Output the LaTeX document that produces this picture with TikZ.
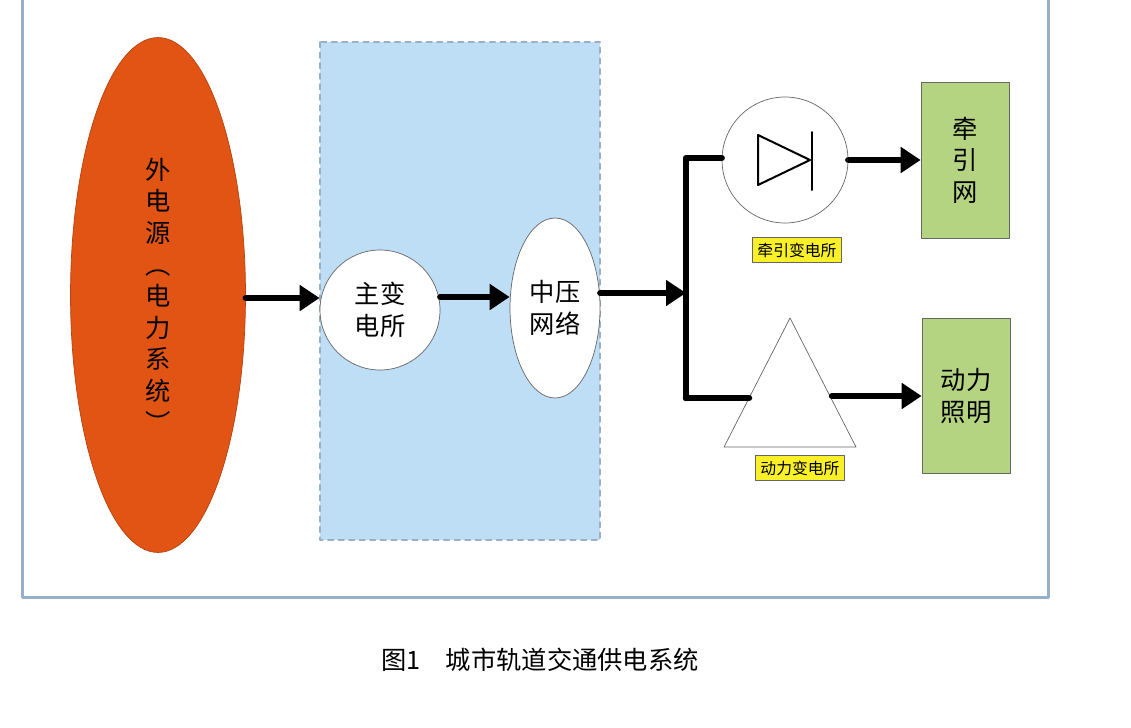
\documentclass[tikz,border=0pt]{standalone}
\usepackage{fontspec}
\setmainfont{Noto Sans CJK SC}
\usetikzlibrary{arrows.meta,shapes.geometric}
\definecolor{frameblue}{RGB}{150,175,205}
\definecolor{paleblue}{RGB}{190,222,245}
\definecolor{fireorange}{RGB}{226,84,20}
\definecolor{leafgreen}{RGB}{180,212,130}
\definecolor{tagyellow}{RGB}{250,240,40}
\tikzset{
  flow/.style={line width=1.3mm, -{Triangle[length=4mm,width=5mm]}},
  bus/.style={line width=1.3mm},
  tag/.style={fill=tagyellow, draw=black!60, font=\small, inner sep=3pt},
  load/.style={fill=leafgreen, draw=black!60, minimum width=1.76cm, align=center, font=\Large}
}
\begin{document}
\begin{tikzpicture}[x=0.02cm,y=-0.02cm, line cap=round, line join=round]
  \useasboundingbox (0,0) rectangle (1131,727);
  \draw[frameblue, line width=0.6mm] (22,-10) -- (22,597) -- (1048,597) -- (1048,-10);

  % source and main substation
  \node[ellipse, fill=fireorange, draw=fireorange!80!black, minimum width=3.5cm, minimum height=10.3cm,
        align=center, font=\Large] (src) at (158,295) {外\\电\\源\\︵\\电\\力\\系\\统\\︶};
  \draw[paleblue!80!black, fill=paleblue, dashed, line width=0.4mm] (320,42) rectangle (600,540);
  \node[circle, fill=white, draw=black!60, minimum size=2.4cm, align=center, font=\Large] (main) at (380,310) {主变\\电所};
  \node[ellipse, fill=white, draw=black!60, minimum width=1.8cm, minimum height=3.6cm, align=center, font=\Large] (mid) at (555,308) {中压\\网络};

  \draw[flow] (src.east |- 0,298) -- (main.west |- 0,298);
  \draw[flow] (main.east |- 0,297) -- (mid.west |- 0,297);
  \coordinate (fork) at (686,293);
  \draw[flow] (mid.east |- 0,293) -- (fork);

  % traction branch
  \node[circle, fill=white, draw=black!60, minimum size=2.52cm] (trac) at (785,160) {};
  \draw[line width=0.4mm] (758,135) -- (758,185) -- (810,160) -- cycle;
  \draw[line width=0.4mm] (812,132) -- (812,190);
  \node[tag] (tractag) at (797,250) {牵引变电所};
  \node[load, minimum height=3.12cm] (net) at (965,160) {牵\\引\\网};
  \draw[bus] (686,398) -- (686,158) -- (trac.west |- 0,158);
  \draw[flow] (trac.east) -- (net.west);

  % power branch
  \draw[fill=white, draw=black!60] (790,318) -- (856,447) -- (724,447) -- cycle;
  \node[tag] (powtag) at (800,468) {动力变电所};
  \node[load, minimum height=3.1cm] (light) at (966,396) {动力\\照明};
  \draw[bus] (686,398) -- (749,398);
  \draw[flow] (832,396) -- (light.west);

  \node[font=\Large] (cap) at (540,660) {图1\quad 城市轨道交通供电系统};
\end{tikzpicture}
\end{document}
